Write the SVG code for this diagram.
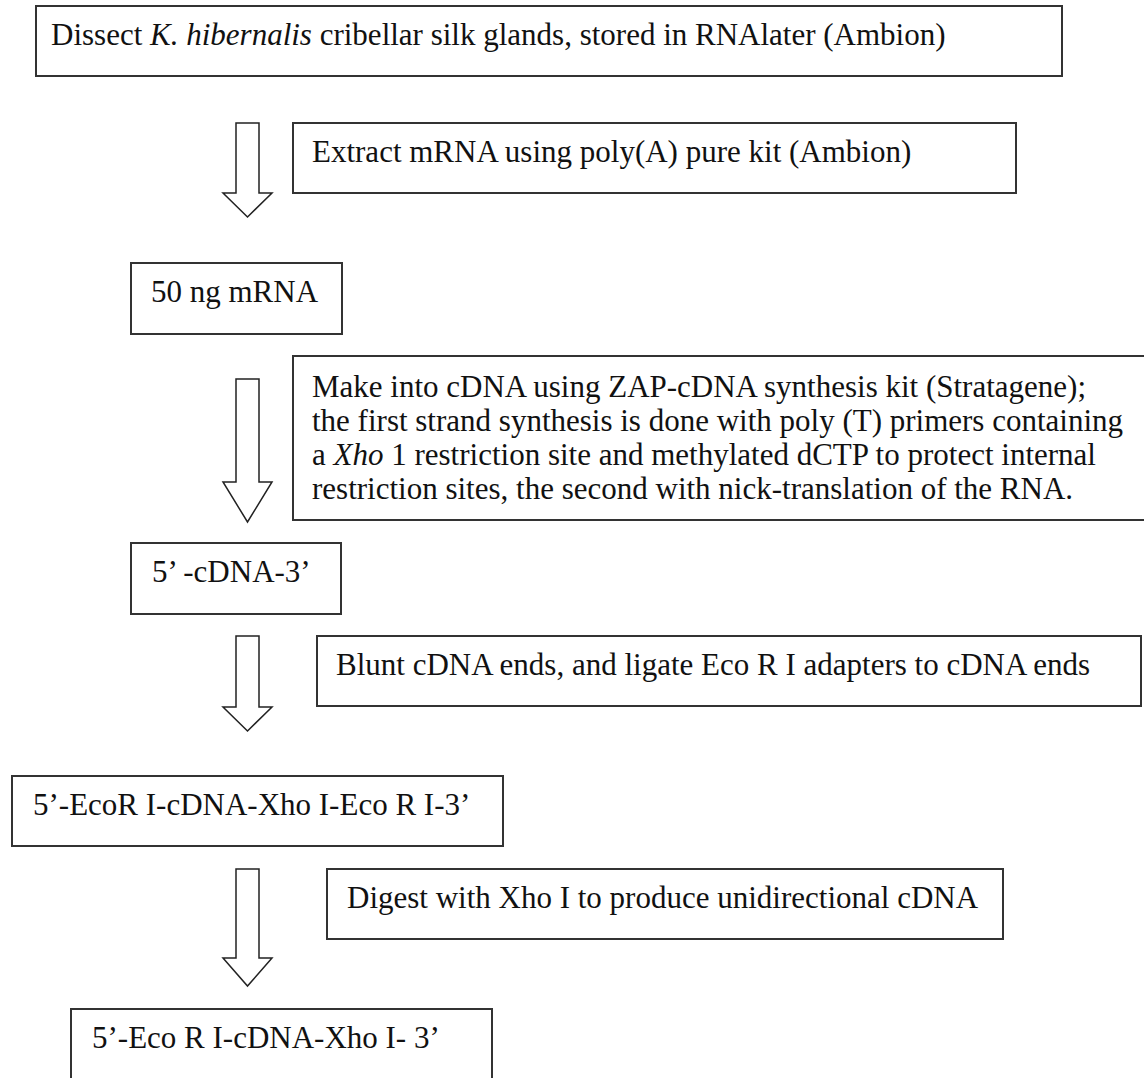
<svg xmlns="http://www.w3.org/2000/svg" width="1144" height="1078" viewBox="0 0 1144 1078">
<style>
.box{fill:#fff;stroke:#333;stroke-width:2}
.arrow{fill:#fff;stroke:#222;stroke-width:1.5;stroke-linejoin:miter}
text{font-family:"Liberation Serif","Times New Roman",serif;font-size:31px;fill:#111}
.it{font-style:italic}
</style>
<rect width="1144" height="1078" fill="#fff"/>
<g id="connectors">
<polygon class="arrow" points="236,123 259,123 259,193 272,193 247.5,217 223,193 236,193"/>
<polygon class="arrow" points="236,379 259,379 259,482 272,482 247.5,522 223,482 236,482"/>
<polygon class="arrow" points="236,636 259,636 259,707 272,707 247.5,731 223,707 236,707"/>
<polygon class="arrow" points="236,869 259,869 259,958 272,958 247.5,986 223,958 236,958"/>
</g>
<g id="n1">
<rect class="box" x="36" y="6" width="1026" height="70"/>
<text x="51" y="45">Dissect <tspan class="it">K. hibernalis</tspan> cribellar silk glands, stored in RNAlater (Ambion)</text>
</g>
<g id="n2">
<rect class="box" x="293" y="123" width="723" height="70"/>
<text x="312" y="162">Extract mRNA using poly(A) pure kit (Ambion)</text>
</g>
<g id="n3">
<rect class="box" x="131" y="263" width="211" height="71"/>
<text x="151" y="302">50 ng mRNA</text>
</g>
<g id="n4">
<rect class="box" x="293" y="356" width="860" height="164"/>
<text x="312" y="397">Make into cDNA using ZAP-cDNA synthesis kit (Stratagene);</text>
<text x="312" y="431">the first strand synthesis is done with poly (T) primers containing</text>
<text x="312" y="465">a <tspan class="it">Xho</tspan> 1 restriction site and methylated dCTP to protect internal</text>
<text x="312" y="499">restriction sites, the second with nick-translation of the RNA.</text>
</g>
<g id="n5">
<rect class="box" x="131" y="543" width="210" height="71"/>
<text x="152" y="582">5’ -cDNA-3’</text>
</g>
<g id="n6">
<rect class="box" x="317" y="636" width="824" height="70"/>
<text x="336" y="675">Blunt cDNA ends, and ligate Eco R I adapters to cDNA ends</text>
</g>
<g id="n7">
<rect class="box" x="12" y="776" width="491" height="70"/>
<text x="33" y="815">5’-EcoR I-cDNA-Xho I-Eco R I-3’</text>
</g>
<g id="n8">
<rect class="box" x="327" y="869" width="676" height="70"/>
<text x="347" y="908">Digest with Xho I to produce unidirectional cDNA</text>
</g>
<g id="n9">
<rect class="box" x="71" y="1009" width="421" height="90"/>
<text x="92" y="1048">5’-Eco R I-cDNA-Xho I- 3’</text>
</g>
</svg>
